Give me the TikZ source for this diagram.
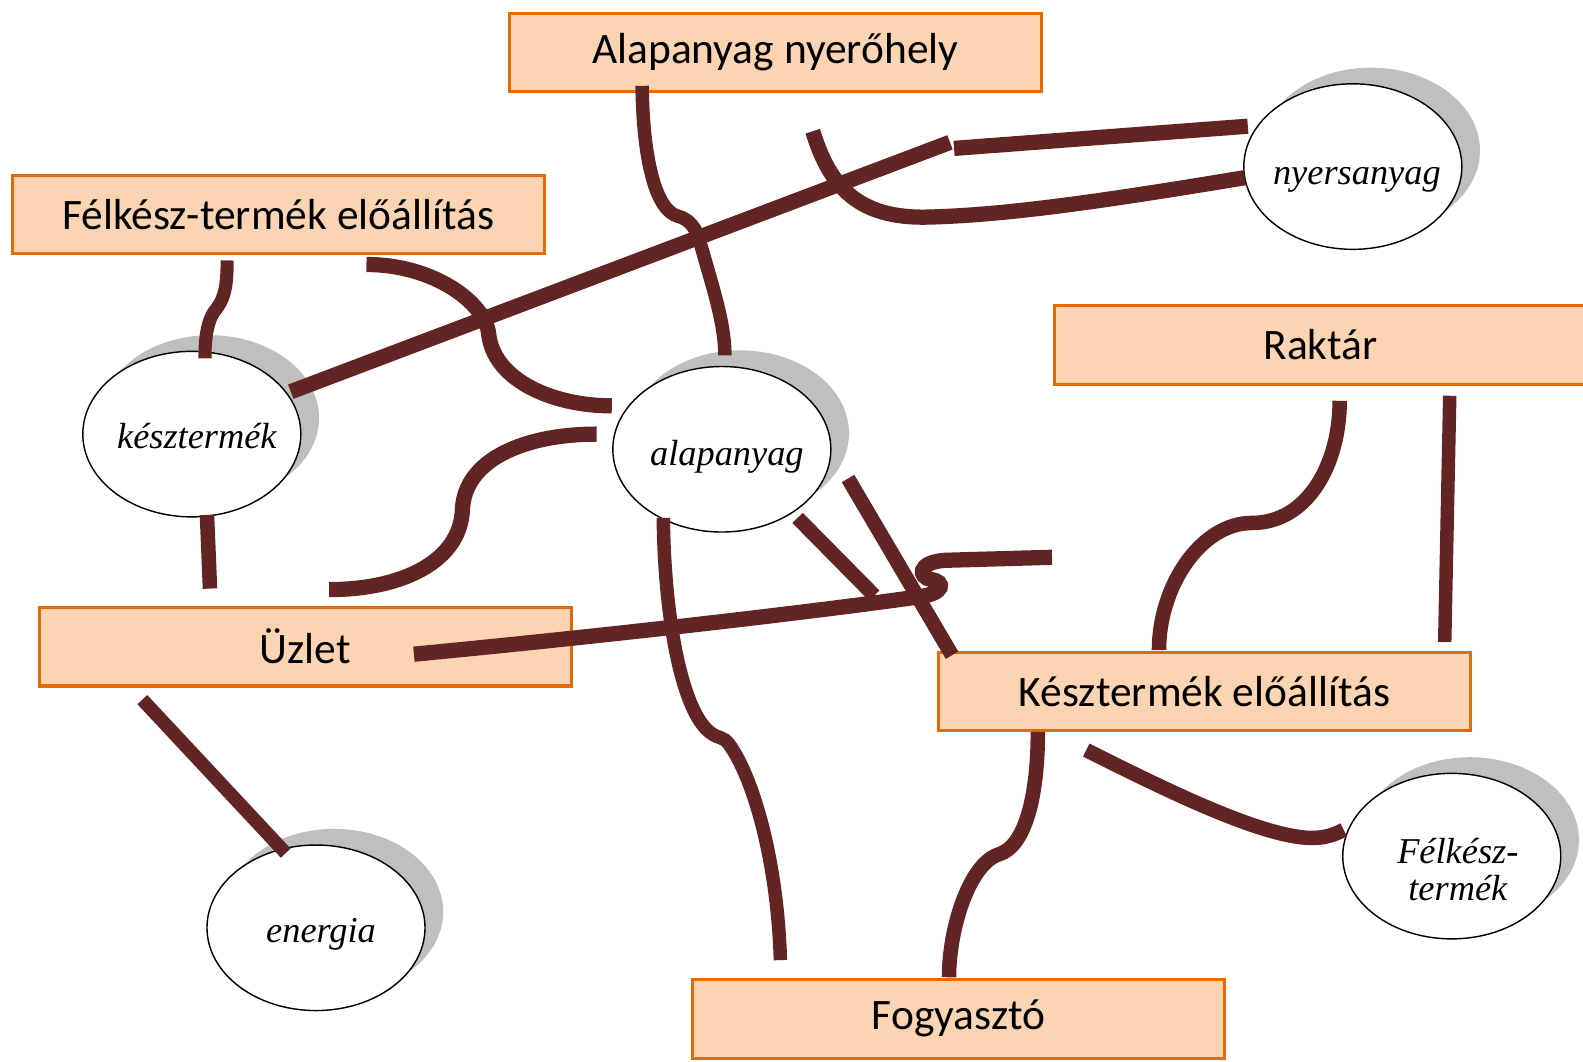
\documentclass[tikz,border=0pt]{standalone}
\usepackage{fontspec}
\setmainfont{Carlito}
\newfontfamily\itserif{Liberation Serif}
\usetikzlibrary{shapes.geometric,shadows}
\definecolor{boxfill}{HTML}{FBD4B4}
\definecolor{boxline}{HTML}{E36C09}
\definecolor{linkcol}{HTML}{632523}
\definecolor{shade}{HTML}{BFBFBF}
\begin{document}
\begin{tikzpicture}[x=0.02cm,y=-0.02cm,
  procbox/.style={rectangle,draw=boxline,fill=boxfill,line width=1.7pt,
    minimum width=10.54cm,minimum height=1.56cm,inner sep=0pt,
    font=\fontsize{24.5}{28}\selectfont},
  matter/.style={ellipse,draw=black,line width=0.8pt,fill=white,
    minimum width=4.32cm,minimum height=3.28cm,inner sep=0pt,
    drop shadow={shadow xshift=0.36cm,shadow yshift=0.32cm,fill=shade,opacity=1}},
  mattertext/.style={anchor=base,inner sep=0pt,align=center,
    font=\itserif\itshape\fontsize{20.5}{20.8}\selectfont},
  link/.style={draw=linkcol,line width=8.2pt}]
\useasboundingbox (0,0) rectangle (1568,1051);
\clip (0,0) rectangle (1568,1051);
% boxes
\node[procbox] (src)   at (768,52)      {Alapanyag nyerőhely};
\node[procbox] (semi)  at (275.5,212.5) {Félkész-termék előállítás};
\node[procbox] (store) at (1308,341.5)  {Raktár};
\node[procbox] (shop)  at (302.5,640.5) {Üzlet};
\node[procbox] (final) at (1193,685)    {Késztermék előállítás};
\node[procbox] (cons)  at (949.5,1009)  {Fogyasztó};
% ellipses
\node[matter] (raw)  at (1340,165) {};
\node[matter] (fin)  at (190,430)  {};
\node[matter] (base) at (715,445)  {};
\node[matter] (en)   at (313,919)  {};
\node[matter] (half) at (1438,848) {};
\node[mattertext] (rawt)  at (1344,183)   {nyersanyag};
\node[mattertext] (fint)  at (195,444)    {késztermék};
\node[mattertext] (baset) at (720,461)    {alapanyag};
\node[mattertext] (ent)   at (318,934)    {energia};
\node[mattertext] (halft) at (1444,892)   {Félkész-\\termék};
% connector end points
\coordinate (c1a) at (636,85);   \coordinate (c1b) at (718,352);
\coordinate (c2a) at (288,388);  \coordinate (c2k) at (941,141);
\coordinate (c2m) at (945,147);  \coordinate (c2b) at (1236,125);
\coordinate (c3a) at (805,130);  \coordinate (c3b) at (1233,176);
\coordinate (c4a) at (225,258);  \coordinate (c4b) at (203,355);
\coordinate (c5a) at (363,262);  \coordinate (c5b) at (606,402);
\coordinate (c6a) at (591,430);  \coordinate (c6b) at (326,584);
\coordinate (c7a) at (205,510);  \coordinate (c7b) at (208,583);
\coordinate (c8a) at (410,648);  \coordinate (c8b) at (1042,552);
\coordinate (c9a) at (790,513);  \coordinate (c9b) at (866,590);
\coordinate (c10a) at (840,474); \coordinate (c10b) at (943,649);
\coordinate (c11a) at (657,513); \coordinate (c11b) at (773,951);
\coordinate (c12a) at (1327,397); \coordinate (c12b) at (1148,644);
\coordinate (c13a) at (1436,392); \coordinate (c13b) at (1431,636);
\coordinate (c14a) at (1028,725); \coordinate (c14b) at (940,968);
\coordinate (c15a) at (1076,743); \coordinate (c15b) at (1331,822);
\coordinate (c16a) at (141,693); \coordinate (c16b) at (283,845);
% connectors
\draw[link,line width=7.6pt] (c1a) .. controls (637,160) and (650,208) .. (671,214)
  .. controls (683,217) and (690,226) .. (694,242)
  .. controls (706,285) and (718,320) .. (c1b);
\draw[link,line width=8.6pt] (c2a) -- (c2k);
\draw[link,line width=8.6pt] (c2m) -- (c2b);
\draw[link,line width=8.6pt] (c3a) .. controls (822,185) and (850,217) .. (920,215)
  .. controls (1000,213) and (1100,198) .. (c3b);
\draw[link,line width=7.4pt] (c4a) .. controls (225,285) and (222,295) .. (215,305)
  .. controls (205,316) and (203,335) .. (c4b);
\draw[link,line width=8.6pt] (c5a) .. controls (430,262) and (480,300) .. (484,330)
  .. controls (488,375) and (545,402) .. (c5b);
\draw[link,line width=8.6pt] (c6a) .. controls (520,430) and (460,455) .. (458,505)
  .. controls (456,555) and (400,584) .. (c6b);
\draw[link] (c7a) -- (c7b);
\draw[link,line width=8.6pt] (c8a) .. controls (650,625) and (850,600) .. (911,591)
  .. controls (935,588) and (937,576) .. (922,574)
  .. controls (910,572) and (908,557) .. (936,555) -- (c8b);
\draw[link] (c9a) -- (c9b);
\draw[link] (c10a) -- (c10b);
\draw[link,line width=7.6pt] (c11a) .. controls (658,610) and (675,705) .. (704,726)
  .. controls (712,732) and (716,729) .. (722,737)
  .. controls (745,768) and (770,850) .. (c11b);
\draw[link] (c12a) .. controls (1327,460) and (1295,518) .. (1240,518)
  .. controls (1190,518) and (1148,580) .. (c12b);
\draw[link,line width=7.6pt] (c13a) -- (c13b);
\draw[link] (c14a) .. controls (1028,790) and (1015,838) .. (990,846)
  .. controls (960,855) and (940,920) .. (c14b);
\draw[link] (c15a) .. controls (1150,780) and (1250,830) .. (1300,830)
  .. controls (1315,830) and (1325,825) .. (c15b);
\draw[link,line width=7.6pt] (c16a) -- (c16b);
\end{tikzpicture}
\end{document}
